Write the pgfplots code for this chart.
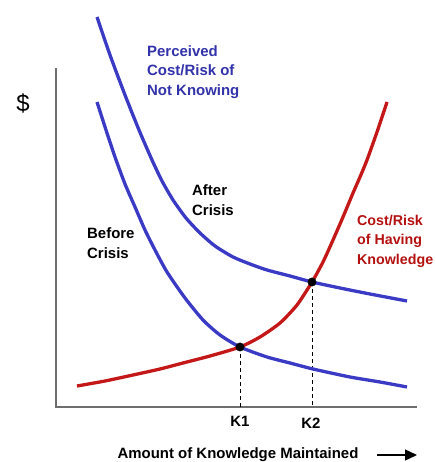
\documentclass[border=0pt]{standalone}
\usepackage{pgfplots}
\pgfplotsset{compat=1.18}
\usepackage{fontspec}
\setmainfont{Liberation Sans}
\usetikzlibrary{arrows.meta}
\definecolor{cblue}{RGB}{58,58,196}
\definecolor{tblue}{RGB}{50,50,170}
\definecolor{cred}{RGB}{196,24,24}
\definecolor{tred}{RGB}{180,16,16}
\definecolor{axgray}{RGB}{110,110,110}
\begin{document}
\begin{tikzpicture}
\begin{axis}[
  scale only axis, width=436bp, height=462bp,
  xmin=0, xmax=436, ymin=0, ymax=462, y dir=reverse,
  axis lines=none, clip=false,
]
\coordinate (bl) at (axis cs:0,462);
\coordinate (tr) at (axis cs:436,0);
% axes
\addplot[axgray, line width=1.3bp] coordinates {(56,68) (56,407) (417,407)};
% dashed guides
\addplot[black, line width=0.7bp, dash pattern=on 4bp off 3bp] coordinates {(240,347) (240,407)};
\addplot[black, line width=0.7bp, dash pattern=on 4bp off 3bp] coordinates {(312,282) (312,407)};
% before crisis
\addplot[cblue, line width=3.3bp, smooth, tension=0.4] coordinates {
(97,102)(106,130)(115,157)(125,184)(135,207)(145,230)(155,250)(167,272)(185,298)(203,320)(220,335)(240,347)(267,357)(290,363)(313,369)(350,377)(380,382)(407,387)};
% after crisis
\addplot[cblue, line width=3.3bp, smooth, tension=0.4] coordinates {
(97,17)(110,55)(125,95)(139,130)(152,160)(162,181)(173,200)(186,218)(200,233)(215,246)(233,257)(250,264)(267,270)(290,276)(312,282)(340,288)(370,294)(407,301)};
% cost of having knowledge
\addplot[cred, line width=3.3bp, smooth, tension=0.4] coordinates {
(77,386)(105,381)(133,375)(160,369)(183,363)(210,356)(240,347)(260,337)(280,323)(297,305)(312,282)(323,262)(333,240)(343,217)(353,193)(360,177)(367,160)(377,132)(387,102)};
% dots
\addplot[only marks, mark=*, mark size=4.2bp, black] coordinates {(240,347) (312,282)};
% arrow
\addplot[black, line width=1.4bp, -{Triangle[length=12bp,width=11bp]}] coordinates {(377,455) (417,455)};
% labels
\node[anchor=west, align=left, text=tblue, font=\fontsize{15}{19.5}\selectfont\bfseries, inner sep=0pt] at (axis cs:147,72) {Perceived\\Cost/Risk of\\Not Knowing};
\node[anchor=west, align=left, font=\fontsize{15}{19.5}\selectfont\bfseries, inner sep=0pt] at (axis cs:192,200) {After\\Crisis};
\node[anchor=west, align=left, font=\fontsize{15}{19.5}\selectfont\bfseries, inner sep=0pt] at (axis cs:87,243) {Before\\Crisis};
\node[anchor=west, align=left, text=tred, font=\fontsize{14.3}{19.5}\selectfont\bfseries, inner sep=0pt] at (axis cs:357,241) {Cost/Risk\\of Having\\Knowledge};
\node[font=\fontsize{15}{18}\selectfont\bfseries, inner sep=0pt] at (axis cs:240,421) {K1};
\node[font=\fontsize{15}{18}\selectfont\bfseries, inner sep=0pt] at (axis cs:311,423) {K2};
\node[font=\fontsize{15}{18}\selectfont\bfseries, inner sep=0pt] at (axis cs:238,455) {Amount of Knowledge Maintained};
\node[font=\fontsize{24}{28}\selectfont, inner sep=0pt] at (axis cs:23,103) {\$};
\end{axis}
\pgfresetboundingbox
\useasboundingbox (bl) rectangle (tr);
\end{tikzpicture}
\end{document}
